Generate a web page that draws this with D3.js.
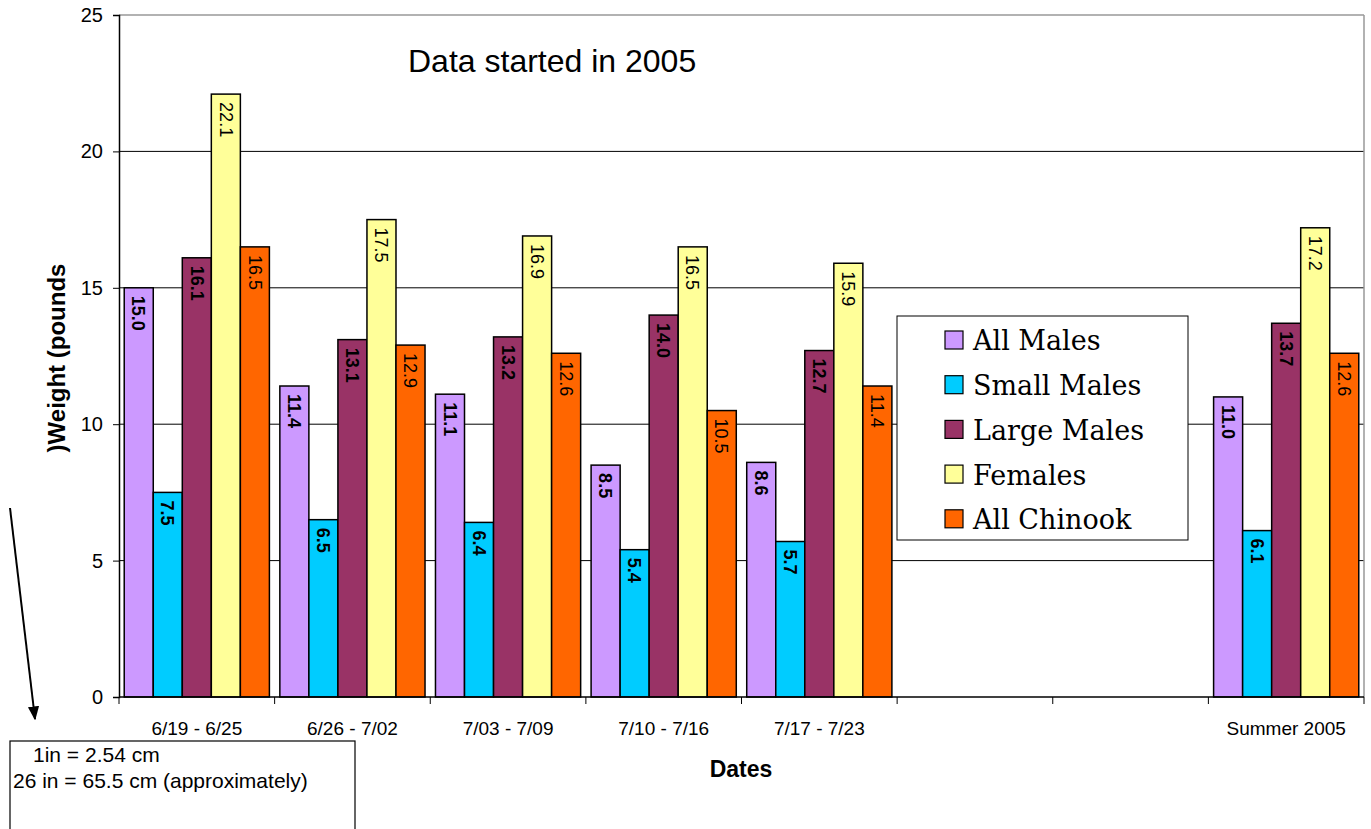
<!DOCTYPE html>
<html>
<head>
<meta charset="utf-8">
<script src="https://cdn.jsdelivr.net/npm/d3@7"></script>
<style>
  html, body { margin: 0; padding: 0; background: #fff; }
  svg { display: block; }
</style>
</head>
<body>
<svg id="chart" width="1371" height="829"></svg>
<script>
// Weekly average weights (pounds) by fish group
const categories = ["6/19 - 6/25", "6/26 - 7/02", "7/03 - 7/09", "7/10 - 7/16", "7/17 - 7/23", "", " ", "Summer 2005"];
const seriesNames = ["All Males", "Small Males", "Large Males", "Females", "All Chinook"];
const allMales   = [15.0, 11.4, 11.1, 8.5, 8.6, null, null, 11.0];
const smallMales = [7.5, 6.5, 6.4, 5.4, 5.7, null, null, 6.1];
const largeMales = [16.1, 13.1, 13.2, 14.0, 12.7, null, null, 13.7];
const females    = [22.1, 17.5, 16.9, 16.5, 15.9, null, null, 17.2];
const allChinook = [16.5, 12.9, 12.6, 10.5, 11.4, null, null, 12.6];
const yTicks = [0, 5, 10, 15, 20, 25];

const seriesValues = [allMales, smallMales, largeMales, females, allChinook];
const colors = ["#CC99FF", "#00CCFF", "#993366", "#FFFF99", "#FF6600"];
const boldLabel = [true, true, true, false, false];

const sans = "Liberation Sans, Arial, sans-serif";
const svg = d3.select("#chart");
const plotLeft = 119, plotRight = 1364, plotTop = 15, plotBottom = 697;

const x = d3.scaleBand().domain(categories).range([plotLeft, plotRight]).paddingInner(0).paddingOuter(0);
const x1 = d3.scaleBand().domain(seriesNames).range([0, x.bandwidth()]).paddingInner(0).paddingOuter(0.18);
const y = d3.scaleLinear().domain([0, 25]).range([plotBottom, plotTop]);

// gridlines
svg.append("g").selectAll("line")
  .data(yTicks.filter(t => t > 0))
  .join("line")
  .attr("x1", plotLeft).attr("x2", plotRight)
  .attr("y1", d => y(d)).attr("y2", d => y(d))
  .attr("stroke", d => d === 25 ? "#999" : "#000")
  .attr("stroke-width", d => d === 25 ? 1.5 : 1);

// right border of plot
svg.append("line").attr("x1", plotRight).attr("x2", plotRight).attr("y1", plotTop).attr("y2", plotBottom)
  .attr("stroke", "#999").attr("stroke-width", 1.5);

// bars
const rows = [];
categories.forEach((c, i) => {
  seriesNames.forEach((s, j) => {
    const v = seriesValues[j][i];
    if (v != null) rows.push({ c, s, j, v });
  });
});

const bars = svg.append("g");
bars.selectAll("rect").data(rows).join("rect")
  .attr("x", d => x(d.c) + x1(d.s))
  .attr("y", d => y(d.v))
  .attr("width", x1.bandwidth())
  .attr("height", d => plotBottom - y(d.v))
  .attr("fill", d => colors[d.j])
  .attr("stroke", "#000")
  .attr("stroke-width", 1.5);

// value labels, rotated inside top of each bar
bars.selectAll("text").data(rows).join("text")
  .attr("transform", d => `translate(${x(d.c) + x1(d.s) + x1.bandwidth() / 2},${y(d.v) + 8}) rotate(90)`)
  .attr("dy", "0.35em")
  .attr("text-anchor", "start")
  .attr("font-family", sans)
  .attr("font-size", 18)
  .attr("font-weight", d => boldLabel[d.j] ? "bold" : "normal")
  .attr("fill", "#000")
  .text(d => d.v.toFixed(1));

// y axis
const yAxis = svg.append("g").attr("transform", `translate(${plotLeft},0)`)
  .call(d3.axisLeft(y).tickValues(yTicks).tickSize(6).tickPadding(10).tickFormat(d3.format("d")));
yAxis.select(".domain").attr("stroke", "#000").attr("stroke-width", 1.5);
yAxis.selectAll(".tick line").attr("stroke", "#000");
yAxis.selectAll("text").attr("font-family", sans).attr("font-size", 20).attr("fill", "#000");

// x axis with ticks at band edges
const xAxis = svg.append("g").attr("transform", `translate(0,${plotBottom})`);
xAxis.append("line").attr("x1", plotLeft).attr("x2", plotRight).attr("y1", 0).attr("y2", 0)
  .attr("stroke", "#000").attr("stroke-width", 1.5);
const edges = categories.map(c => x(c)).concat([plotRight]);
xAxis.selectAll("line.tk").data(edges).join("line").attr("class", "tk")
  .attr("x1", d => d).attr("x2", d => d).attr("y1", 0).attr("y2", 7)
  .attr("stroke", "#000");
xAxis.selectAll("text").data(categories).join("text")
  .attr("x", d => x(d) + x.bandwidth() / 2)
  .attr("y", 38)
  .attr("text-anchor", "middle")
  .attr("font-family", sans)
  .attr("font-size", 19)
  .attr("fill", "#000")
  .text(d => d.trim());

// titles
svg.append("text").attr("x", 408).attr("y", 72)
  .attr("font-family", sans).attr("font-size", 32)
  .text("Data started in 2005");

svg.append("text").attr("transform", `translate(65,358) rotate(-90)`)
  .attr("text-anchor", "middle")
  .attr("font-family", sans).attr("font-size", 24).attr("font-weight", "bold")
  .text(")Weight (pounds");

svg.append("text").attr("x", 741).attr("y", 777)
  .attr("text-anchor", "middle")
  .attr("font-family", sans).attr("font-size", 23).attr("font-weight", "bold")
  .text("Dates");

// legend
const legend = svg.append("g").attr("transform", "translate(897,316)");
legend.append("rect").attr("width", 291).attr("height", 224)
  .attr("fill", "#fff").attr("stroke", "#000").attr("stroke-width", 1);
const li = legend.selectAll("g.item").data(seriesNames).join("g").attr("class", "item")
  .attr("transform", (d, i) => `translate(0,${24 + i * 44.7})`);
li.append("rect").attr("x", 48).attr("y", -9).attr("width", 18).attr("height", 18)
  .attr("fill", (d, i) => colors[i]).attr("stroke", "#000").attr("stroke-width", 1.2);
li.append("text").attr("x", 76).attr("y", 1).attr("dy", "0.35em")
  .attr("font-family", "DejaVu Serif, 'Liberation Serif', serif").attr("font-size", 27)
  .text(d => d);

// conversion note box and arrow
const note = svg.append("g");
note.append("rect").attr("x", 10).attr("y", 741).attr("width", 345).attr("height", 100)
  .attr("fill", "#fff").attr("stroke", "#000").attr("stroke-width", 1.2);
note.append("text").attr("x", 33).attr("y", 762)
  .attr("font-family", sans).attr("font-size", 21)
  .text("1in = 2.54 cm");
note.append("text").attr("x", 13).attr("y", 788)
  .attr("font-family", sans).attr("font-size", 21)
  .text("26 in = 65.5 cm (approximately)");

svg.append("defs").append("marker").attr("id", "arrowhead")
  .attr("viewBox", "0 0 10 10").attr("refX", 9).attr("refY", 5)
  .attr("markerWidth", 7).attr("markerHeight", 7).attr("orient", "auto")
  .append("path").attr("d", "M0,1 L10,5 L0,9 Z").attr("fill", "#000");
svg.append("line").attr("x1", 10).attr("y1", 508).attr("x2", 35).attr("y2", 719)
  .attr("stroke", "#000").attr("stroke-width", 2).attr("marker-end", "url(#arrowhead)");
</script>
</body>
</html>
